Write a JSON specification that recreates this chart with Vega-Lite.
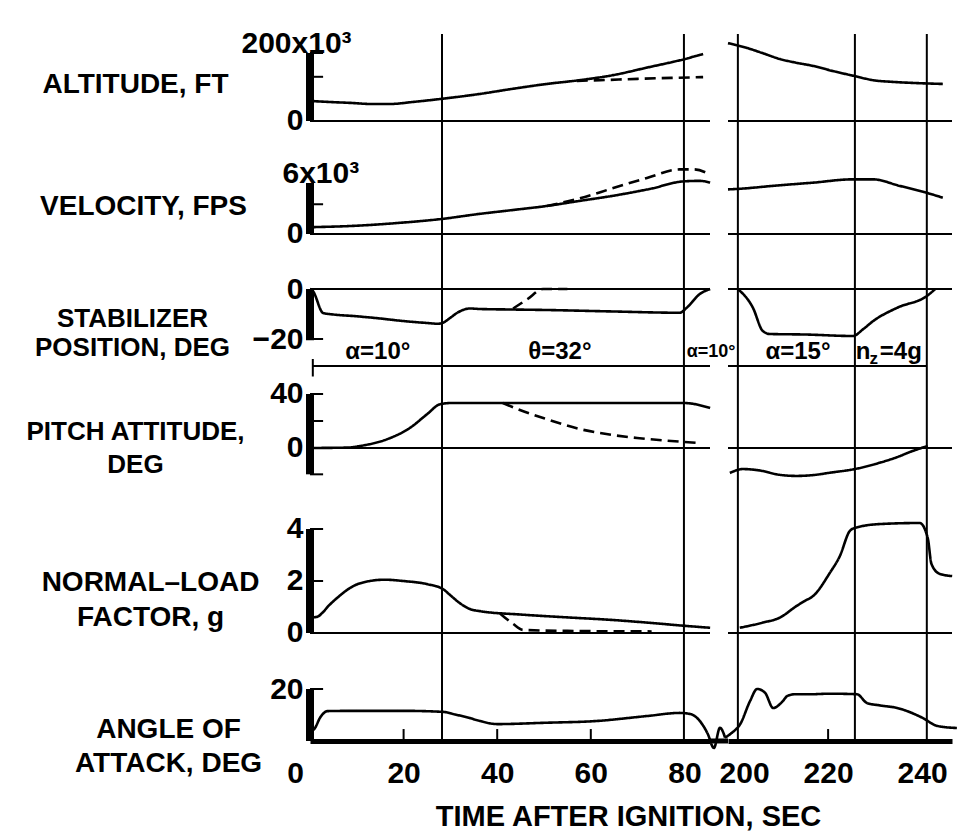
{
"$schema": "https://vega.github.io/schema/vega-lite/v6.json",
"padding": {"left": 25, "top": 28, "right": 0, "bottom": 0},
"background": "white",
"columns": 2,
"spacing": {"row": 0, "column": 18},
"bounds": "flush",
"align": "each",
"config": {
  "font": "Liberation Sans",
  "view": {"stroke": null},
  "axis": {"grid": false, "ticks": false, "labelColor": "black", "titleColor": "black", "tickColor": "black", "domainColor": "black", "labelFontSize": 30, "labelFontWeight": "bold", "titleFontSize": 28, "titleFontWeight": "bold", "labelFont": "Liberation Sans", "titleFont": "Liberation Sans"},
  "line": {"color": "black", "strokeWidth": 2.6, "interpolate": "monotone"},
  "rule": {"color": "black", "strokeWidth": 2},
  "text": {"color": "black", "font": "Liberation Sans", "fontSize": 24, "fontWeight": "bold"}
},
"datasets": {
  "evL": [{"t": 28.2}, {"t": 79.9}],
  "evR": [{"t": 200.8}, {"t": 225.7}, {"t": 241.0}],
  "altL": [{"t":0,"v":59,"s":"solid"},{"t":4,"v":56,"s":"solid"},{"t":9,"v":53,"s":"solid"},{"t":13,"v":50,"s":"solid"},{"t":17,"v":50,"s":"solid"},{"t":22,"v":56,"s":"solid"},{"t":28,"v":65,"s":"solid"},{"t":36,"v":79,"s":"solid"},{"t":43,"v":94,"s":"solid"},{"t":50.6,"v":109,"s":"solid"},{"t":57,"v":119,"s":"solid"},{"t":64.8,"v":135,"s":"solid"},{"t":72,"v":157,"s":"solid"},{"t":80,"v":182,"s":"solid"},{"t":84,"v":197,"s":"solid"},
    {"t":57,"v":118,"s":"dashed"},{"t":62,"v":120,"s":"dashed"},{"t":70,"v":124,"s":"dashed"},{"t":78,"v":127,"s":"dashed"},{"t":84,"v":129,"s":"dashed"}],
  "altR": [{"t":198.7,"v":229,"s":"solid"},{"t":202.7,"v":215,"s":"solid"},{"t":206,"v":200,"s":"solid"},{"t":209.8,"v":182,"s":"solid"},{"t":213,"v":172,"s":"solid"},{"t":216.8,"v":162,"s":"solid"},{"t":221,"v":147,"s":"solid"},{"t":225.7,"v":132,"s":"solid"},{"t":229.6,"v":120,"s":"solid"},{"t":233.8,"v":115,"s":"solid"},{"t":238,"v":112,"s":"solid"},{"t":244.4,"v":109,"s":"solid"}],
  "velL": [{"t":0,"v":0.8,"s":"solid"},{"t":9,"v":0.95,"s":"solid"},{"t":20,"v":1.35,"s":"solid"},{"t":28,"v":1.76,"s":"solid"},{"t":36,"v":2.35,"s":"solid"},{"t":43,"v":2.8,"s":"solid"},{"t":50.6,"v":3.3,"s":"solid"},{"t":57.7,"v":3.9,"s":"solid"},{"t":64.8,"v":4.5,"s":"solid"},{"t":72.6,"v":5.3,"s":"solid"},{"t":80,"v":6.2,"s":"solid"},{"t":83.3,"v":6.25,"s":"solid"},{"t":85.5,"v":6.05,"s":"solid"},
    {"t":50.6,"v":3.3,"s":"dashed"},{"t":57,"v":4.1,"s":"dashed"},{"t":64.8,"v":5.4,"s":"dashed"},{"t":72,"v":6.6,"s":"dashed"},{"t":79,"v":7.6,"s":"dashed"},{"t":82,"v":7.6,"s":"dashed"},{"t":85.5,"v":7.0,"s":"dashed"}],
  "velR": [{"t":198.7,"v":5.25,"s":"solid"},{"t":200.6,"v":5.3,"s":"solid"},{"t":209,"v":5.7,"s":"solid"},{"t":216.8,"v":6.04,"s":"solid"},{"t":225.2,"v":6.43,"s":"solid"},{"t":229.5,"v":6.43,"s":"solid"},{"t":235.3,"v":5.65,"s":"solid"},{"t":240,"v":5.0,"s":"solid"},{"t":244.4,"v":4.27,"s":"solid"}],
  "stabL": [{"t":0,"v":0,"s":"solid"},{"t":0.6,"v":-0.8,"s":"solid"},{"t":2.8,"v":-9.6,"s":"solid"},{"t":5,"v":-10.2,"s":"solid"},{"t":9.2,"v":-10.8,"s":"solid"},{"t":14,"v":-11.6,"s":"solid"},{"t":19.9,"v":-12.8,"s":"solid"},{"t":25,"v":-13.6,"s":"solid"},{"t":27.3,"v":-13.9,"s":"solid"},{"t":28.4,"v":-13.5,"s":"solid"},{"t":30,"v":-11.5,"s":"solid"},{"t":31.4,"v":-9.6,"s":"solid"},{"t":34.2,"v":-7.8,"s":"solid"},{"t":36.3,"v":-8,"s":"solid"},{"t":43,"v":-8.2,"s":"solid"},{"t":50.6,"v":-8.4,"s":"solid"},{"t":65,"v":-9,"s":"solid"},{"t":79,"v":-9.5,"s":"solid"},{"t":80.5,"v":-7.5,"s":"solid"},{"t":83.3,"v":-2,"s":"solid"},{"t":85.5,"v":0,"s":"solid"},
    {"t":43.4,"v":-7.8,"s":"dashed"},{"t":46.5,"v":-4,"s":"dashed"},{"t":49.8,"v":0,"s":"dashed"},{"t":55,"v":0,"s":"dashed"}],
  "stabR": [{"t":200.8,"v":0,"s":"solid"},{"t":204,"v":-7.5,"s":"solid"},{"t":206.1,"v":-16.8,"s":"solid"},{"t":207.6,"v":-18,"s":"solid"},{"t":215,"v":-18.2,"s":"solid"},{"t":225.3,"v":-18.8,"s":"solid"},{"t":227.5,"v":-16,"s":"solid"},{"t":229.6,"v":-12.8,"s":"solid"},{"t":234.7,"v":-7.5,"s":"solid"},{"t":241,"v":-2.8,"s":"solid"},{"t":242.8,"v":0,"s":"solid"}],
  "pitchL": [{"t":0,"v":0,"s":"solid"},{"t":8,"v":0.3,"s":"solid"},{"t":10.7,"v":1.5,"s":"solid"},{"t":16.4,"v":6.4,"s":"solid"},{"t":21.4,"v":15,"s":"solid"},{"t":25,"v":25,"s":"solid"},{"t":27.8,"v":32.4,"s":"solid"},{"t":30,"v":33.3,"s":"solid"},{"t":40,"v":33.3,"s":"solid"},{"t":60,"v":33.3,"s":"solid"},{"t":80,"v":33.3,"s":"solid"},{"t":85.5,"v":29.6,"s":"solid"},
    {"t":41.2,"v":33.3,"s":"dashed"},{"t":45,"v":28,"s":"dashed"},{"t":50,"v":22,"s":"dashed"},{"t":57.7,"v":14,"s":"dashed"},{"t":63,"v":10.5,"s":"dashed"},{"t":69.9,"v":7.4,"s":"dashed"},{"t":76,"v":5.5,"s":"dashed"},{"t":83.3,"v":3.7,"s":"dashed"}],
  "pitchR": [{"t":199.1,"v":-18.5,"s":"solid"},{"t":201.9,"v":-15.6,"s":"solid"},{"t":204,"v":-16,"s":"solid"},{"t":206,"v":-17,"s":"solid"},{"t":209,"v":-19.5,"s":"solid"},{"t":213.3,"v":-20.7,"s":"solid"},{"t":217,"v":-20,"s":"solid"},{"t":220.4,"v":-18.3,"s":"solid"},{"t":225.7,"v":-15.6,"s":"solid"},{"t":231,"v":-10.9,"s":"solid"},{"t":234.5,"v":-7,"s":"solid"},{"t":238,"v":-2.2,"s":"solid"},{"t":241.2,"v":1.5,"s":"solid"}],
  "nzL": [{"t":0.5,"v":0.6,"s":"solid"},{"t":1.5,"v":0.62,"s":"solid"},{"t":2.6,"v":0.77,"s":"solid"},{"t":4,"v":1.05,"s":"solid"},{"t":5.8,"v":1.35,"s":"solid"},{"t":9.2,"v":1.8,"s":"solid"},{"t":12.8,"v":2.0,"s":"solid"},{"t":16,"v":2.05,"s":"solid"},{"t":19.9,"v":2.0,"s":"solid"},{"t":25,"v":1.88,"s":"solid"},{"t":28.4,"v":1.69,"s":"solid"},{"t":30,"v":1.45,"s":"solid"},{"t":32,"v":1.15,"s":"solid"},{"t":34.2,"v":0.92,"s":"solid"},{"t":36.3,"v":0.84,"s":"solid"},{"t":45,"v":0.71,"s":"solid"},{"t":55,"v":0.6,"s":"solid"},{"t":64.7,"v":0.5,"s":"solid"},{"t":72,"v":0.4,"s":"solid"},{"t":80.5,"v":0.27,"s":"solid"},{"t":85.5,"v":0.2,"s":"solid"},
    {"t":40.6,"v":0.75,"s":"dashed"},{"t":43.4,"v":0.35,"s":"dashed"},{"t":45.5,"v":0.12,"s":"dashed"},{"t":55,"v":0.08,"s":"dashed"},{"t":73,"v":0.06,"s":"dashed"}],
  "nzR": [{"t":201.2,"v":0.2,"s":"solid"},{"t":206.1,"v":0.4,"s":"solid"},{"t":209.7,"v":0.59,"s":"solid"},{"t":213.3,"v":1.04,"s":"solid"},{"t":215,"v":1.23,"s":"solid"},{"t":216.8,"v":1.42,"s":"solid"},{"t":220.4,"v":2.32,"s":"solid"},{"t":222.5,"v":2.96,"s":"solid"},{"t":224.6,"v":3.92,"s":"solid"},{"t":225.7,"v":4.04,"s":"solid"},{"t":231,"v":4.19,"s":"solid"},{"t":239.5,"v":4.23,"s":"solid"},{"t":241.2,"v":3.65,"s":"solid"},{"t":242,"v":2.65,"s":"solid"},{"t":243.8,"v":2.27,"s":"solid"},{"t":246.4,"v":2.19,"s":"solid"}],
  "aoaL": [{"t":0.6,"v":4,"s":"solid"},{"t":1.1,"v":5.1,"s":"solid"},{"t":2.1,"v":8.8,"s":"solid"},{"t":3.8,"v":11.5,"s":"solid"},{"t":10,"v":11.6,"s":"solid"},{"t":20,"v":11.6,"s":"solid"},{"t":28.4,"v":11.2,"s":"solid"},{"t":31,"v":10.2,"s":"solid"},{"t":34.2,"v":8.8,"s":"solid"},{"t":36.3,"v":7.7,"s":"solid"},{"t":40,"v":6.5,"s":"solid"},{"t":50,"v":7.0,"s":"solid"},{"t":61.3,"v":7.7,"s":"solid"},{"t":72,"v":9.6,"s":"solid"},{"t":79,"v":10.8,"s":"solid"},{"t":81.2,"v":10.4,"s":"solid"},{"t":83.3,"v":7.7,"s":"solid"},{"t":85,"v":2.7,"s":"solid"},{"t":86.3,"v":-2.7,"s":"solid"},{"t":87.6,"v":5.1,"s":"solid"},{"t":88.7,"v":1.3,"s":"solid"}],
  "aoaR": [{"t":198.06,"v":1.3,"s":"solid"},{"t":199.55,"v":3.2,"s":"solid"},{"t":201.3,"v":6.5,"s":"solid"},{"t":203.4,"v":15.4,"s":"solid"},{"t":204.9,"v":20,"s":"solid"},{"t":206.6,"v":18.5,"s":"solid"},{"t":208.3,"v":12.7,"s":"solid"},{"t":210.4,"v":15.4,"s":"solid"},{"t":211.3,"v":17.3,"s":"solid"},{"t":213,"v":18,"s":"solid"},{"t":216.8,"v":18,"s":"solid"},{"t":220,"v":18.2,"s":"solid"},{"t":226.1,"v":18,"s":"solid"},{"t":228.3,"v":14.6,"s":"solid"},{"t":231,"v":13.7,"s":"solid"},{"t":234.7,"v":12.7,"s":"solid"},{"t":240.2,"v":8.8,"s":"solid"},{"t":243.2,"v":5.8,"s":"solid"},{"t":247.4,"v":5,"s":"solid"}]
},
"concat": [
{"width": 400, "height": 127, "layer": [
  {"data": {"name": "evL"}, "mark": "rule", "encoding": {"x": {"field": "t", "type": "quantitative", "scale": {"domain": [0, 85.47], "nice": false, "zero": false}, "axis": null}}},
  {"data": {"values": [{}]}, "mark": "rule", "encoding": {"y": {"datum": 0, "type": "quantitative", "scale": {"domain": [-117.65, 255.88], "nice": false, "zero": false}}}},
  {"data": {"values": [{}]}, "mark": {"type": "rule", "strokeWidth": 8}, "encoding": {"x": {"datum": 0, "type": "quantitative", "axis": null}, "y": {"datum": 0, "type": "quantitative"}, "y2": {"datum": 200}}},
  {"data": {"values": [{"tk": 130}, {"tk": 200}]}, "mark": "rule", "encoding": {"x": {"datum": 0, "type": "quantitative", "axis": null}, "x2": {"datum": 2.8}, "y": {"field": "tk", "type": "quantitative"}}},
  {"data": {"name": "altL"}, "mark": "line", "encoding": {
    "x": {"field": "t", "type": "quantitative", "scale": {"domain": [0, 85.47], "nice": false, "zero": false}, "axis": null},
    "y": {"field": "v", "type": "quantitative", "scale": {"domain": [-117.65, 255.88], "nice": false, "zero": false},
      "axis": {"values": [0, 200], "labelExpr": "datum.value == 0 ? '0' : '200x10³'", "domain": false, "labelOverlap": false, "labelFlush": false, "labelBound": false,
        "labelAlign": {"condition": {"test": "datum.value == 200", "value": "left"}, "value": "right"},
        "labelBaseline": {"condition": {"test": "datum.value == 200", "value": "alphabetic"}, "value": "middle"},
        "labelPadding": {"condition": {"test": "datum.value == 200", "value": 69}, "value": 7},
        "title": "ALTITUDE, FT", "titleAngle": 0, "titleAlign": "center", "titleBaseline": "middle", "titleX": -175, "titleY": 50}},
    "strokeDash": {"field": "s", "type": "nominal", "scale": {"domain": ["solid", "dashed"], "range": [[1, 0], [11, 6]]}, "legend": null}}}
]},
{"width": 224, "height": 127, "layer": [
  {"data": {"name": "evR"}, "mark": "rule", "encoding": {"x": {"field": "t", "type": "quantitative", "scale": {"domain": [198.7, 246.36], "nice": false, "zero": false}, "axis": null}}},
  {"data": {"values": [{}]}, "mark": "rule", "encoding": {"y": {"datum": 0, "type": "quantitative", "scale": {"domain": [-117.65, 255.88], "nice": false, "zero": false}, "axis": null}}},
  {"data": {"name": "altR"}, "mark": "line", "encoding": {
    "x": {"field": "t", "type": "quantitative", "scale": {"domain": [198.7, 246.36], "nice": false, "zero": false}, "axis": null},
    "y": {"field": "v", "type": "quantitative", "scale": {"domain": [-117.65, 255.88], "nice": false, "zero": false}, "axis": null},
    "strokeDash": {"field": "s", "type": "nominal", "scale": {"domain": ["solid", "dashed"], "range": [[1, 0], [11, 6]]}, "legend": null}}}
]},
{"width": 400, "height": 102, "layer": [
  {"data": {"name": "evL"}, "mark": "rule", "encoding": {"x": {"field": "t", "type": "quantitative", "scale": {"domain": [0, 85.47], "nice": false, "zero": false}, "axis": null}}},
  {"data": {"values": [{}]}, "mark": "rule", "encoding": {"y": {"datum": 0, "type": "quantitative", "scale": {"domain": [-3.412, 8.588], "nice": false, "zero": false}}}},
  {"data": {"values": [{}]}, "mark": {"type": "rule", "strokeWidth": 8}, "encoding": {"x": {"datum": 0, "type": "quantitative", "axis": null}, "y": {"datum": 0, "type": "quantitative"}, "y2": {"datum": 6}}},
  {"data": {"values": [{"tk": 3.5}]}, "mark": "rule", "encoding": {"x": {"datum": 0, "type": "quantitative", "axis": null}, "x2": {"datum": 2.8}, "y": {"field": "tk", "type": "quantitative"}}},
  {"data": {"name": "velL"}, "mark": "line", "encoding": {
    "x": {"field": "t", "type": "quantitative", "scale": {"domain": [0, 85.47], "nice": false, "zero": false}, "axis": null},
    "y": {"field": "v", "type": "quantitative", "scale": {"domain": [-3.412, 8.588], "nice": false, "zero": false},
      "axis": {"values": [0, 6], "labelExpr": "datum.value == 0 ? '0' : '6x10³'", "domain": false, "labelOverlap": false, "labelFlush": false, "labelBound": false,
        "labelAlign": {"condition": {"test": "datum.value == 6", "value": "left"}, "value": "right"},
        "labelBaseline": {"condition": {"test": "datum.value == 6", "value": "alphabetic"}, "value": "middle"},
        "labelPadding": {"condition": {"test": "datum.value == 6", "value": 28}, "value": 7},
        "title": "VELOCITY, FPS", "titleAngle": 0, "titleAlign": "center", "titleBaseline": "middle", "titleX": -167, "titleY": 45}},
    "strokeDash": {"field": "s", "type": "nominal", "scale": {"domain": ["solid", "dashed"], "range": [[1, 0], [11, 6]]}, "legend": null}}}
]},
{"width": 224, "height": 102, "layer": [
  {"data": {"name": "evR"}, "mark": "rule", "encoding": {"x": {"field": "t", "type": "quantitative", "scale": {"domain": [198.7, 246.36], "nice": false, "zero": false}, "axis": null}}},
  {"data": {"values": [{}]}, "mark": "rule", "encoding": {"y": {"datum": 0, "type": "quantitative", "scale": {"domain": [-3.412, 8.588], "nice": false, "zero": false}, "axis": null}}},
  {"data": {"name": "velR"}, "mark": "line", "encoding": {
    "x": {"field": "t", "type": "quantitative", "scale": {"domain": [198.7, 246.36], "nice": false, "zero": false}, "axis": null},
    "y": {"field": "v", "type": "quantitative", "scale": {"domain": [-3.412, 8.588], "nice": false, "zero": false}, "axis": null},
    "strokeDash": {"field": "s", "type": "nominal", "scale": {"domain": ["solid", "dashed"], "range": [[1, 0], [11, 6]]}, "legend": null}}}
]},
{"width": 400, "height": 113, "layer": [
  {"data": {"name": "evL"}, "mark": "rule", "encoding": {"x": {"field": "t", "type": "quantitative", "scale": {"domain": [0, 85.47], "nice": false, "zero": false}, "axis": null}}},
  {"data": {"values": [{}]}, "mark": "rule", "encoding": {"y": {"datum": 0, "type": "quantitative", "scale": {"domain": [-34.8, 10.4], "nice": false, "zero": false}}}},
  {"data": {"values": [{}]}, "mark": {"type": "rule", "strokeWidth": 8}, "encoding": {"x": {"datum": 0, "type": "quantitative", "axis": null}, "y": {"datum": 0, "type": "quantitative"}, "y2": {"datum": -20.5}}},
  {"data": {"values": [{"tk": -20}]}, "mark": "rule", "encoding": {"x": {"datum": 0, "type": "quantitative", "axis": null}, "x2": {"datum": 2.8}, "y": {"field": "tk", "type": "quantitative"}}},
  {"data": {"values": [{}]}, "mark": "rule", "encoding": {"x": {"datum": 0.6, "type": "quantitative", "axis": null}, "x2": {"datum": 85.47}, "y": {"datum": -30.8, "type": "quantitative"}}},
  {"data": {"values": [{}]}, "mark": "rule", "encoding": {"x": {"datum": 0.6, "type": "quantitative", "axis": null}, "y": {"datum": -28, "type": "quantitative"}, "y2": {"datum": -35}}},
  {"data": {"values": [{"t": 14.5, "label": "α=10°"}, {"t": 53.4, "label": "θ=32°"}]}, "mark": {"type": "text", "fontSize": 24, "baseline": "middle"}, "encoding": {"x": {"field": "t", "type": "quantitative", "axis": null}, "y": {"datum": -25.2, "type": "quantitative"}, "text": {"field": "label"}}},
  {"data": {"values": [{"t": 85.7, "label": "α=10°"}]}, "mark": {"type": "text", "fontSize": 18, "baseline": "middle"}, "encoding": {"x": {"field": "t", "type": "quantitative", "axis": null}, "y": {"datum": -25.2, "type": "quantitative"}, "text": {"field": "label"}}},
  {"data": {"name": "stabL"}, "mark": "line", "encoding": {
    "x": {"field": "t", "type": "quantitative", "scale": {"domain": [0, 85.47], "nice": false, "zero": false}, "axis": null},
    "y": {"field": "v", "type": "quantitative", "scale": {"domain": [-34.8, 10.4], "nice": false, "zero": false},
      "axis": {"values": [0, -20], "domain": false, "labelOverlap": false, "labelFlush": false, "labelBound": false, "labelPadding": 7,
        "title": ["STABILIZER", "POSITION, DEG"], "titleFontSize": 26, "titleLineHeight": 29, "titleAngle": 0, "titleAlign": "center", "titleBaseline": "middle", "titleX": -178, "titleY": 55}},
    "strokeDash": {"field": "s", "type": "nominal", "scale": {"domain": ["solid", "dashed"], "range": [[1, 0], [11, 6]]}, "legend": null}}}
]},
{"width": 224, "height": 113, "layer": [
  {"data": {"name": "evR"}, "mark": "rule", "encoding": {"x": {"field": "t", "type": "quantitative", "scale": {"domain": [198.7, 246.36], "nice": false, "zero": false}, "axis": null}}},
  {"data": {"values": [{}]}, "mark": "rule", "encoding": {"y": {"datum": 0, "type": "quantitative", "scale": {"domain": [-34.8, 10.4], "nice": false, "zero": false}, "axis": null}}},
  {"data": {"values": [{}]}, "mark": "rule", "encoding": {"x": {"datum": 198.7, "type": "quantitative", "axis": null}, "x2": {"datum": 241}, "y": {"datum": -30.8, "type": "quantitative", "axis": null}}},
  {"data": {"values": [{"t": 213.6, "label": "α=15°"}]}, "mark": {"type": "text", "fontSize": 24, "baseline": "middle"}, "encoding": {"x": {"field": "t", "type": "quantitative", "axis": null}, "y": {"datum": -25.2, "type": "quantitative", "axis": null}, "text": {"field": "label"}}},
  {"data": {"values": [{"t": 225.9, "label": "n"}, {"t": 231.0, "label": "=4g"}]}, "mark": {"type": "text", "fontSize": 24, "baseline": "middle", "align": "left"}, "encoding": {"x": {"field": "t", "type": "quantitative", "axis": null}, "y": {"datum": -25.2, "type": "quantitative", "axis": null}, "text": {"field": "label"}}},
  {"data": {"values": [{"t": 228.8, "label": "z"}]}, "mark": {"type": "text", "fontSize": 17, "baseline": "middle", "align": "left"}, "encoding": {"x": {"field": "t", "type": "quantitative", "axis": null}, "y": {"datum": -27.8, "type": "quantitative", "axis": null}, "text": {"field": "label"}}},
  {"data": {"name": "stabR"}, "mark": "line", "encoding": {
    "x": {"field": "t", "type": "quantitative", "scale": {"domain": [198.7, 246.36], "nice": false, "zero": false}, "axis": null},
    "y": {"field": "v", "type": "quantitative", "scale": {"domain": [-34.8, 10.4], "nice": false, "zero": false}, "axis": null},
    "strokeDash": {"field": "s", "type": "nominal", "scale": {"domain": ["solid", "dashed"], "range": [[1, 0], [11, 6]]}, "legend": null}}}
]},
{"width": 400, "height": 120, "layer": [
  {"data": {"name": "evL"}, "mark": "rule", "encoding": {"x": {"field": "t", "type": "quantitative", "scale": {"domain": [0, 85.47], "nice": false, "zero": false}, "axis": null}}},
  {"data": {"values": [{}]}, "mark": "rule", "encoding": {"y": {"datum": 0, "type": "quantitative", "scale": {"domain": [-35.56, 53.33], "nice": false, "zero": false}}}},
  {"data": {"values": [{}]}, "mark": {"type": "rule", "strokeWidth": 8}, "encoding": {"x": {"datum": 0, "type": "quantitative", "axis": null}, "y": {"datum": 40, "type": "quantitative"}, "y2": {"datum": -19.5}}},
  {"data": {"values": [{"tk": 40}, {"tk": 20}, {"tk": -19.5}]}, "mark": "rule", "encoding": {"x": {"datum": 0, "type": "quantitative", "axis": null}, "x2": {"datum": 2.8}, "y": {"field": "tk", "type": "quantitative"}}},
  {"data": {"name": "pitchL"}, "mark": "line", "encoding": {
    "x": {"field": "t", "type": "quantitative", "scale": {"domain": [0, 85.47], "nice": false, "zero": false}, "axis": null},
    "y": {"field": "v", "type": "quantitative", "scale": {"domain": [-35.56, 53.33], "nice": false, "zero": false},
      "axis": {"values": [40, 0], "domain": false, "labelOverlap": false, "labelFlush": false, "labelBound": false, "labelPadding": 7,
        "title": ["PITCH ATTITUDE,", "DEG"], "titleFontSize": 26, "titleLineHeight": 33, "titleAngle": 0, "titleAlign": "center", "titleBaseline": "middle", "titleX": -175, "titleY": 55}},
    "strokeDash": {"field": "s", "type": "nominal", "scale": {"domain": ["solid", "dashed"], "range": [[1, 0], [11, 6]]}, "legend": null}}}
]},
{"width": 224, "height": 120, "layer": [
  {"data": {"name": "evR"}, "mark": "rule", "encoding": {"x": {"field": "t", "type": "quantitative", "scale": {"domain": [198.7, 246.36], "nice": false, "zero": false}, "axis": null}}},
  {"data": {"values": [{}]}, "mark": "rule", "encoding": {"y": {"datum": 0, "type": "quantitative", "scale": {"domain": [-35.56, 53.33], "nice": false, "zero": false}, "axis": null}}},
  {"data": {"name": "pitchR"}, "mark": "line", "encoding": {
    "x": {"field": "t", "type": "quantitative", "scale": {"domain": [198.7, 246.36], "nice": false, "zero": false}, "axis": null},
    "y": {"field": "v", "type": "quantitative", "scale": {"domain": [-35.56, 53.33], "nice": false, "zero": false}, "axis": null},
    "strokeDash": {"field": "s", "type": "nominal", "scale": {"domain": ["solid", "dashed"], "range": [[1, 0], [11, 6]]}, "legend": null}}}
]},
{"width": 400, "height": 165, "layer": [
  {"data": {"name": "evL"}, "mark": "rule", "encoding": {"x": {"field": "t", "type": "quantitative", "scale": {"domain": [0, 85.47], "nice": false, "zero": false}, "axis": null}}},
  {"data": {"values": [{}]}, "mark": "rule", "encoding": {"y": {"datum": 0, "type": "quantitative", "scale": {"domain": [-1.077, 5.269], "nice": false, "zero": false}}}},
  {"data": {"values": [{}]}, "mark": {"type": "rule", "strokeWidth": 8}, "encoding": {"x": {"datum": 0, "type": "quantitative", "axis": null}, "y": {"datum": 0, "type": "quantitative"}, "y2": {"datum": 4}}},
  {"data": {"values": [{"tk": 4}, {"tk": 2}]}, "mark": "rule", "encoding": {"x": {"datum": 0, "type": "quantitative", "axis": null}, "x2": {"datum": 2.8}, "y": {"field": "tk", "type": "quantitative"}}},
  {"data": {"name": "nzL"}, "mark": "line", "encoding": {
    "x": {"field": "t", "type": "quantitative", "scale": {"domain": [0, 85.47], "nice": false, "zero": false}, "axis": null},
    "y": {"field": "v", "type": "quantitative", "scale": {"domain": [-1.077, 5.269], "nice": false, "zero": false},
      "axis": {"values": [0, 2, 4], "domain": false, "labelOverlap": false, "labelFlush": false, "labelBound": false, "labelPadding": 7,
        "title": ["NORMAL–LOAD", "FACTOR,  g"], "titleLineHeight": 35, "titleAngle": 0, "titleAlign": "center", "titleBaseline": "middle", "titleX": -160, "titleY": 86}},
    "strokeDash": {"field": "s", "type": "nominal", "scale": {"domain": ["solid", "dashed"], "range": [[1, 0], [11, 6]]}, "legend": null}}}
]},
{"width": 224, "height": 165, "layer": [
  {"data": {"name": "evR"}, "mark": "rule", "encoding": {"x": {"field": "t", "type": "quantitative", "scale": {"domain": [198.7, 246.36], "nice": false, "zero": false}, "axis": null}}},
  {"data": {"values": [{}]}, "mark": "rule", "encoding": {"y": {"datum": 0, "type": "quantitative", "scale": {"domain": [-1.077, 5.269], "nice": false, "zero": false}, "axis": null}}},
  {"data": {"name": "nzR"}, "mark": "line", "encoding": {
    "x": {"field": "t", "type": "quantitative", "scale": {"domain": [198.7, 246.36], "nice": false, "zero": false}, "axis": null},
    "y": {"field": "v", "type": "quantitative", "scale": {"domain": [-1.077, 5.269], "nice": false, "zero": false}, "axis": null},
    "strokeDash": {"field": "s", "type": "nominal", "scale": {"domain": ["solid", "dashed"], "range": [[1, 0], [11, 6]]}, "legend": null}}}
]},
{"width": 400, "height": 80, "layer": [
  {"data": {"name": "evL"}, "mark": "rule", "encoding": {"x": {"field": "t", "type": "quantitative", "scale": {"domain": [0, 85.47], "nice": false, "zero": false}}}},
  {"data": {"values": [{}]}, "mark": {"type": "rule", "strokeWidth": 5}, "encoding": {"x": {"datum": 85.47, "type": "quantitative"}, "x2": {"datum": 89.32}, "y": {"datum": 0, "type": "quantitative", "scale": {"domain": [0, 30.77], "nice": false, "zero": false}}}},
  {"data": {"values": [{}]}, "mark": {"type": "rule", "strokeWidth": 8}, "encoding": {"x": {"datum": 0, "type": "quantitative"}, "y": {"datum": 0, "type": "quantitative"}, "y2": {"datum": 20}}},
  {"data": {"values": [{"tk": 20}]}, "mark": "rule", "encoding": {"x": {"datum": 0, "type": "quantitative"}, "x2": {"datum": 2.8}, "y": {"field": "tk", "type": "quantitative"}}},
  {"data": {"values": [{"tk": 20}, {"tk": 40}, {"tk": 60}]}, "mark": "rule", "encoding": {"x": {"field": "tk", "type": "quantitative"}, "y": {"datum": 0, "type": "quantitative"}, "y2": {"datum": 4.6}}},
  {"data": {"name": "aoaL"}, "mark": "line", "encoding": {
    "x": {"field": "t", "type": "quantitative", "scale": {"domain": [0, 85.47], "nice": false, "zero": false},
      "axis": {"values": [0, 20, 40, 60, 80], "domain": true, "domainWidth": 5, "labelPadding": 17, "labelBaseline": "top", "labelFlush": false, "labelOverlap": false, "labelBound": false,
        "labelOffset": {"condition": {"test": "datum.value == 0", "value": -15}, "value": 0},
        "title": "TIME AFTER IGNITION, SEC", "titleFontSize": 29, "titleX": 318, "titleY": 75, "titleAlign": "center", "titleBaseline": "middle", "titleAngle": 0}},
    "y": {"field": "v", "type": "quantitative", "scale": {"domain": [0, 30.77], "nice": false, "zero": false},
      "axis": {"values": [20], "domain": false, "labelOverlap": false, "labelFlush": false, "labelBound": false, "labelPadding": 7,
        "title": ["ANGLE OF", "ATTACK,  DEG"], "titleLineHeight": 34, "titleAngle": 0, "titleAlign": "center", "titleBaseline": "middle", "titleX": -142, "titleY": 68}},
    "strokeDash": {"field": "s", "type": "nominal", "scale": {"domain": ["solid", "dashed"], "range": [[1, 0], [11, 6]]}, "legend": null}}}
]},
{"width": 224, "height": 80, "layer": [
  {"data": {"name": "evR"}, "mark": "rule", "encoding": {"x": {"field": "t", "type": "quantitative", "scale": {"domain": [198.7, 246.36], "nice": false, "zero": false}}}},
  {"data": {"values": [{"tk": 220}]}, "mark": "rule", "encoding": {"x": {"field": "tk", "type": "quantitative"}, "y": {"datum": 0, "type": "quantitative", "scale": {"domain": [0, 30.77], "nice": false, "zero": false}, "axis": null}, "y2": {"datum": 4.6}}},
  {"data": {"name": "aoaR"}, "mark": "line", "encoding": {
    "x": {"field": "t", "type": "quantitative", "scale": {"domain": [198.7, 246.36], "nice": false, "zero": false},
      "axis": {"values": [200, 220, 240], "domain": true, "domainWidth": 5, "labelPadding": 17, "labelBaseline": "top", "labelFlush": false, "labelOverlap": false, "labelBound": false,
        "labelOffset": {"condition": {"test": "datum.value == 200", "value": 10}, "value": 0}, "title": null}},
    "y": {"field": "v", "type": "quantitative", "scale": {"domain": [0, 30.77], "nice": false, "zero": false}, "axis": null},
    "strokeDash": {"field": "s", "type": "nominal", "scale": {"domain": ["solid", "dashed"], "range": [[1, 0], [11, 6]]}, "legend": null}}}
]}
]
}
